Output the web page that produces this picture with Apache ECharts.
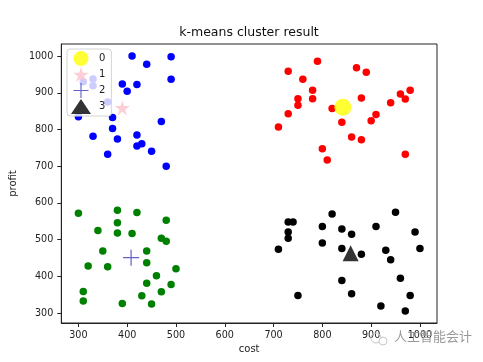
<!DOCTYPE html>
<html>
<head>
<meta charset="utf-8">
<script src="https://cdn.jsdelivr.net/npm/echarts@6/dist/echarts.min.js"></script>
<style>
html,body{margin:0;padding:0;background:#fff;}
#c{width:483px;height:362px;}
</style>
</head>
<body>
<div id="c"></div>
<script>
// ---- data ----
const chartTitle = 'k-means cluster result';
const xName = 'cost';
const yName = 'profit';
const xTicks = [300, 400, 500, 600, 700, 800, 900, 1000];
const yTicks = [300, 400, 500, 600, 700, 800, 900, 1000];
const centroidNames = ['0', '1', '2', '3'];

const blueCluster = [
  [410,1000],[490,998],[440,978],[490,937],[390,924],[420,923],[400,904],
  [360,875],[330,938],[330,919],[310,930],[300,835],[370,833],[470,822],
  [330,782],[370,803],[380,774],[420,785],[420,755],[430,761],[450,741],
  [360,733],[480,700]
];
const redCluster = [
  [790,986],[730,959],[870,968],[890,956],[760,937],[780,907],[750,884],
  [780,884],[750,866],[730,843],[710,807],[820,857],[880,886],[840,820],
  [910,841],[900,824],[860,780],[880,772],[800,748],[810,717],[940,873],
  [960,897],[970,883],[980,907],[970,733]
];
const greenCluster = [
  [300,572],[380,580],[420,574],[480,553],[380,546],[340,525],[380,518],
  [410,517],[470,504],[480,496],[350,469],[440,469],[440,437],[320,428],
  [360,426],[500,421],[460,402],[440,381],[490,378],[310,359],[470,358],
  [430,347],[310,333],[390,326],[450,325]
];
const blackCluster = [
  [950,575],[820,570],[730,548],[740,548],[800,536],[840,529],[910,536],
  [730,521],[860,515],[990,521],[730,504],[800,491],[710,474],[840,476],
  [880,460],[930,471],[1000,476],[940,445],[960,395],[840,389],[750,348],
  [860,353],[980,348],[920,319],[970,306]
];
// centroids: 0 (yellow, red cluster), 1 (pink star, blue), 2 (plus, green), 3 (triangle, black)
const centroid0 = [[842,861]];
const centroid1 = [[390,859]];
const centroid2 = [[408,451]];
const centroid3 = [[858,463]];

// ---- styles ----
const FONT = 'DejaVu Sans';
const STAR = 'path://M0,-100 L22.45,-30.9 L95.1,-30.9 L36.3,11.8 L58.8,80.9 L0,38.2 L-58.8,80.9 L-36.3,11.8 L-95.1,-30.9 L-22.45,-30.9 Z';
const PLUS = 'path://M-0.6,-8H0.6V-0.6H8V0.6H0.6V8H-0.6V0.6H-8V-0.6H-0.6Z';
const plain = function (v) { return String(v); };

function dots(name, data, color) {
  return {
    type: 'scatter', name: name, data: data, symbol: 'circle', symbolSize: 7.5,
    itemStyle: { color: color, opacity: 1 }, z: 2, silent: true
  };
}

const chart = echarts.init(document.getElementById('c'), null, { renderer: 'canvas' });
chart.setOption({
  animation: false,
  backgroundColor: '#fff',
  title: {
    text: chartTitle, left: 249, top: 26, textAlign: 'center', padding: 0,
    textStyle: { fontFamily: FONT, fontSize: 12.5, fontWeight: 'normal', color: '#111' }
  },
  grid: {
    left: 61, right: 46, top: 44, bottom: 39, show: true,
    borderColor: '#222', borderWidth: 1, backgroundColor: 'transparent'
  },
  legend: {
    data: centroidNames, orient: 'vertical', left: 67, top: 49,
    itemWidth: 20, itemHeight: 15, itemGap: 1, padding: [2, 6, 2, 4],
    backgroundColor: 'rgba(255,255,255,0.8)', borderColor: '#d4d4d4', borderWidth: 1, borderRadius: 3,
    textStyle: { fontFamily: FONT, fontSize: 10, color: '#222', padding: [0, 0, 0, 3] },
    selectedMode: false, z: 10
  },
  xAxis: {
    type: 'value', min: 265, max: 1035, name: xName, nameLocation: 'middle', nameGap: 20,
    nameTextStyle: { fontFamily: FONT, fontSize: 10, color: '#222' },
    axisLine: { show: true, lineStyle: { color: '#222', width: 1 } },
    axisTick: { show: true, length: 4, customValues: xTicks, lineStyle: { color: '#222' } },
    axisLabel: { customValues: xTicks, formatter: plain, fontFamily: FONT, fontSize: 9.6, color: '#222', margin: 7 },
    splitLine: { show: false }
  },
  yAxis: {
    type: 'value', min: 273, max: 1033, name: yName, nameLocation: 'middle', nameGap: 40, nameRotate: 90,
    nameTextStyle: { fontFamily: FONT, fontSize: 10, color: '#222' },
    axisLine: { show: true, lineStyle: { color: '#222', width: 1 } },
    axisTick: { show: true, length: 4, customValues: yTicks, lineStyle: { color: '#222' } },
    axisLabel: { customValues: yTicks, formatter: plain, fontFamily: FONT, fontSize: 9.6, color: '#222', margin: 8 },
    splitLine: { show: false }
  },
  graphic: [
    { type: 'circle', shape: { cx: 376, cy: 338, r: 5 }, style: { fill: 'none', stroke: '#c8c8c8', lineWidth: 1 }, z: 20 },
    { type: 'circle', shape: { cx: 383, cy: 341, r: 4 }, style: { fill: 'rgba(255,255,255,0.8)', stroke: '#c8c8c8', lineWidth: 1 }, z: 20 },
    { type: 'text', left: 394, top: 330, z: 20,
      style: { text: '人工智能会计', font: '13px "Noto Sans CJK SC"', fill: '#9a9a9a' } }
  ],
  series: [
    dots('blue', blueCluster, '#0000ff'),
    dots('red', redCluster, '#ff0000'),
    dots('green', greenCluster, '#008000'),
    dots('black', blackCluster, '#000000'),
    { type: 'scatter', name: '0', data: centroid0, symbol: 'circle', symbolSize: 17,
      itemStyle: { color: '#ffff00' }, z: 3 },
    { type: 'scatter', name: '1', data: centroid1, symbol: STAR, symbolSize: 15,
      itemStyle: { color: '#ffc0cb' }, z: 3 },
    { type: 'scatter', name: '2', data: centroid2, symbol: PLUS, symbolSize: 16,
      itemStyle: { color: '#3a3ab8' }, z: 3 },
    { type: 'scatter', name: '3', data: centroid3, symbol: 'triangle', symbolSize: 16,
      itemStyle: { color: '#000000' }, z: 3 }
  ]
});
</script>
</body>
</html>
